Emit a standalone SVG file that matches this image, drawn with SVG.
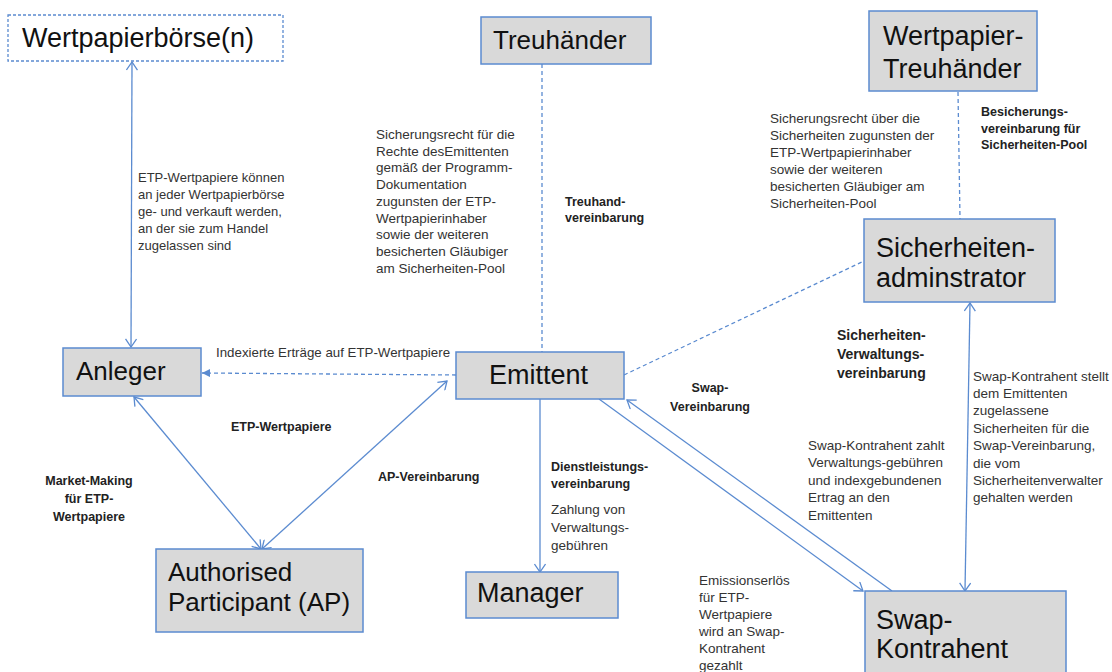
<svg xmlns="http://www.w3.org/2000/svg" width="1112" height="672" viewBox="0 0 1112 672">
<style>
.box{fill:#d9d9d9;stroke:#5b8bd0;stroke-width:1.5}
.nt{font-family:"Liberation Sans",Arial,sans-serif;font-size:27px;fill:#111}
.lbl{font-family:"Liberation Sans",Arial,sans-serif;font-size:13.5px;fill:#333}
.bl{font-family:"Liberation Sans",Arial,sans-serif;font-size:12.5px;font-weight:bold;fill:#222}
.ln{stroke:#5b8bd0;stroke-width:1.3;fill:none}
.dash{stroke:#5b8bd0;stroke-width:1.3;fill:none;stroke-dasharray:4,3}
</style>
<defs>
<marker id="chev" viewBox="0 0 10 12" refX="9" refY="6" markerWidth="10" markerHeight="12" markerUnits="userSpaceOnUse" orient="auto-start-reverse">
<path d="M1,0.5 L9,6 L1,11.5" fill="none" stroke="#5b8bd0" stroke-width="1.3"/>
</marker>
<marker id="tri" viewBox="0 0 8 8" refX="8" refY="4" markerWidth="8" markerHeight="8" markerUnits="userSpaceOnUse" orient="auto">
<path d="M0,0 L8,4 L0,8 z" fill="#5b8bd0"/>
</marker>
</defs>

<g id="connectors">
<line class="ln" x1="132" y1="62" x2="131" y2="347" marker-start="url(#chev)" marker-end="url(#chev)"/>
<line class="dash" x1="542" y1="64" x2="542" y2="352"/>
<line class="dash" x1="958" y1="92" x2="960" y2="219"/>
<line class="dash" x1="456" y1="375" x2="202" y2="373" marker-end="url(#tri)"/>
<line class="dash" x1="624" y1="375" x2="864" y2="261"/>
<line class="ln" x1="134" y1="397" x2="261" y2="549" marker-start="url(#chev)" marker-end="url(#chev)"/>
<line class="ln" x1="262" y1="549" x2="447" y2="381" marker-start="url(#chev)" marker-end="url(#chev)"/>
<line class="ln" x1="540" y1="399" x2="540" y2="572" marker-end="url(#chev)"/>
<line class="ln" x1="599" y1="399" x2="863" y2="591" marker-end="url(#chev)"/>
<line class="ln" x1="892" y1="591" x2="627" y2="400" marker-end="url(#chev)"/>
<line class="ln" x1="970" y1="303" x2="965" y2="591" marker-start="url(#chev)" marker-end="url(#chev)"/>
</g>

<g id="n-boerse">
<rect x="8" y="15" width="275" height="46" fill="#fff" stroke="#5b8bd0" stroke-width="1.3" stroke-dasharray="3,2"/>
<text class="nt" x="22" y="47">Wertpapierbörse(n)</text>
</g>
<g id="n-treuhaender">
<rect class="box" x="481" y="17" width="170" height="47"/>
<text class="nt" x="493" y="49" style="font-size:26px">Treuhänder</text>
</g>
<g id="n-wp-treuhaender">
<rect class="box" x="869" y="11" width="168" height="80"/>
<text class="nt" x="883" y="45">Wertpapier-</text>
<text class="nt" x="883" y="78">Treuhänder</text>
</g>
<g id="n-sicherheiten">
<rect class="box" x="864" y="219" width="191" height="83"/>
<text class="nt" x="876" y="257">Sicherheiten-</text>
<text class="nt" x="876" y="287">adminstrator</text>
</g>
<g id="n-anleger">
<rect class="box" x="63" y="348" width="138" height="48"/>
<text class="nt" x="76" y="380" style="font-size:26px">Anleger</text>
</g>
<g id="n-emittent">
<rect class="box" x="456" y="352" width="168" height="47"/>
<text class="nt" x="489" y="384">Emittent</text>
</g>
<g id="n-ap">
<rect class="box" x="156" y="549" width="207" height="83"/>
<text class="nt" x="168" y="581" style="font-size:26px">Authorised</text>
<text class="nt" x="168" y="611" style="font-size:26px">Participant (AP)</text>
</g>
<g id="n-manager">
<rect class="box" x="466" y="572" width="152" height="46"/>
<text class="nt" x="477" y="602">Manager</text>
</g>
<g id="n-swap">
<rect class="box" x="865" y="591" width="201" height="90"/>
<text class="nt" x="876" y="629">Swap-</text>
<text class="nt" x="876" y="658">Kontrahent</text>
</g>

<g id="labels">
<text class="lbl" x="138" y="181.5" style="font-size:13px"><tspan x="138">ETP-Wertpapiere können</tspan><tspan x="138" dy="17">an jeder Wertpapierbörse</tspan><tspan x="138" dy="17">ge- und verkauft werden,</tspan><tspan x="138" dy="17">an der sie zum Handel</tspan><tspan x="138" dy="17">zugelassen sind</tspan></text>
<text class="lbl" x="376" y="139"><tspan x="376">Sicherungsrecht für die</tspan><tspan x="376" dy="16.7">Rechte desEmittenten</tspan><tspan x="376" dy="16.7">gemäß der Programm-</tspan><tspan x="376" dy="16.7">Dokumentation</tspan><tspan x="376" dy="16.7">zugunsten der ETP-</tspan><tspan x="376" dy="16.7">Wertpapierinhaber</tspan><tspan x="376" dy="16.7">sowie der weiteren</tspan><tspan x="376" dy="16.7">besicherten Gläubiger</tspan><tspan x="376" dy="16.7">am Sicherheiten-Pool</tspan></text>
<text class="bl" x="565" y="206"><tspan x="565">Treuhand-</tspan><tspan x="565" dy="16">vereinbarung</tspan></text>
<text class="lbl" x="770" y="122.5"><tspan x="770">Sicherungsrecht über die</tspan><tspan x="770" dy="17">Sicherheiten zugunsten der</tspan><tspan x="770" dy="17">ETP-Wertpapierinhaber</tspan><tspan x="770" dy="17">sowie der weiteren</tspan><tspan x="770" dy="17">besicherten Gläubiger am</tspan><tspan x="770" dy="17">Sicherheiten-Pool</tspan></text>
<text class="bl" x="981" y="116"><tspan x="981">Besicherungs-</tspan><tspan x="981" dy="16.5">vereinbarung  für</tspan><tspan x="981" dy="16.5">Sicherheiten-Pool</tspan></text>
<text class="lbl" x="216" y="357" style="font-size:13.3px">Indexierte Erträge auf ETP-Wertpapiere</text>
<text class="bl" x="231" y="431">ETP-Wertpapiere</text>
<text class="bl" x="89" y="485" text-anchor="middle"><tspan x="89">Market-Making</tspan><tspan x="89" dy="18">für ETP-</tspan><tspan x="89" dy="18">Wertpapiere</tspan></text>
<text class="bl" x="378" y="481">AP-Vereinbarung</text>
<text class="bl" x="551" y="471"><tspan x="551">Dienstleistungs-</tspan><tspan x="551" dy="16.5">vereinbarung</tspan></text>
<text class="lbl" x="551" y="514"><tspan x="551">Zahlung von</tspan><tspan x="551" dy="18">Verwaltungs-</tspan><tspan x="551" dy="18">gebühren</tspan></text>
<text class="bl" x="710" y="392" text-anchor="middle"><tspan x="710">Swap-</tspan><tspan x="710" dy="19">Vereinbarung</tspan></text>
<text class="bl" x="837" y="340" style="font-size:14px"><tspan x="837">Sicherheiten-</tspan><tspan x="837" dy="19">Verwaltungs-</tspan><tspan x="837" dy="19">vereinbarung</tspan></text>
<text class="lbl" x="808" y="449.5"><tspan x="808">Swap-Kontrahent zahlt</tspan><tspan x="808" dy="17.5">Verwaltungs-gebühren</tspan><tspan x="808" dy="17.5">und indexgebundenen</tspan><tspan x="808" dy="17.5">Ertrag an den</tspan><tspan x="808" dy="17.5">Emittenten</tspan></text>
<text class="lbl" x="973" y="380.5"><tspan x="973">Swap-Kontrahent stellt</tspan><tspan x="973" dy="17.4">dem Emittenten</tspan><tspan x="973" dy="17.4">zugelassene</tspan><tspan x="973" dy="17.4">Sicherheiten für die</tspan><tspan x="973" dy="17.4">Swap-Vereinbarung,</tspan><tspan x="973" dy="17.4">die vom</tspan><tspan x="973" dy="17.4">Sicherheitenverwalter</tspan><tspan x="973" dy="17.4">gehalten werden</tspan></text>
<text class="lbl" x="699" y="585"><tspan x="699">Emissionserlös</tspan><tspan x="699" dy="17">für ETP-</tspan><tspan x="699" dy="17">Wertpapiere</tspan><tspan x="699" dy="17">wird an Swap-</tspan><tspan x="699" dy="17">Kontrahent</tspan><tspan x="699" dy="16.5">gezahlt</tspan></text>
</g>
</svg>
